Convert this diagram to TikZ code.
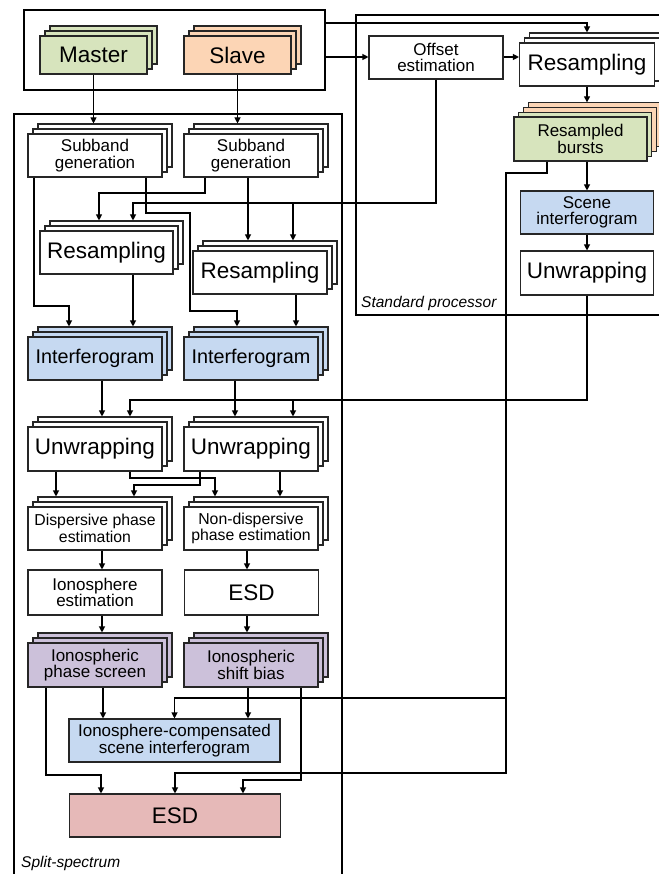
\documentclass[tikz,border=0pt]{standalone}
\usepackage{fontspec}
\setmainfont{Liberation Sans}
\usepackage{xcolor}
\usepackage{tikz}
\usetikzlibrary{arrows.meta, positioning, calc}
\definecolor{mgreen}{HTML}{D7E4BD}
\definecolor{sorange}{HTML}{FCD5B5}
\definecolor{iblue}{HTML}{C6D9F1}
\definecolor{ipurple}{HTML}{CCC1DA}
\definecolor{ered}{HTML}{E6B9B8}
\newcommand{\bigfont}{\fontsize{22.5}{24}\selectfont}
\newcommand{\midfont}{\fontsize{19.8}{21}\selectfont}
\newcommand{\smallfont}{\fontsize{17}{16.5}\selectfont}
\newcommand{\tinyfont}{\fontsize{15.8}{16.5}\selectfont}

\begin{document}
\begin{tikzpicture}[
		x=1pt, y=-1pt,
		box/.style={draw=black!85, line width=1.1pt, fill=white, minimum width=134pt,
			minimum height=43pt, inner sep=0pt, align=center, font=\smallfont},
		stack/.style={box, fill=#1,
			preaction={draw=black!85, fill=#1, transform canvas={shift={(10pt,10pt)}}},
			preaction={draw=black!85, fill=#1, transform canvas={shift={(5pt,5pt)}}}},
		stack/.default=white,
		burststack/.style={box, fill=mgreen,
			preaction={draw=black!85, fill=sorange, transform canvas={shift={(14.1pt,14.1pt)}}},
			preaction={draw=black!85, fill=sorange, transform canvas={shift={(9.4pt,9.4pt)}}},
			preaction={draw=black!85, fill=mgreen, transform canvas={shift={(4.7pt,4.7pt)}}}},
		frame/.style={draw=black, line width=2.2pt, inner sep=0pt, outer sep=0pt},
		arr/.style={-{Triangle[length=6pt,width=6pt]}, line width=1.1pt},
		lab/.style={font=\fontsize{15.5}{16}\selectfont\itshape, anchor=west, inner sep=0pt}
		]
		\useasboundingbox (0,0) rectangle (658,874);
		
		% Frames
		\node[frame, minimum width=301pt, minimum height=80pt] (inputs) at (174.5,50) {};
		\draw[frame] (14,876) |- (342,114) -- (342,876);
		\draw[frame] (660,15) -| (356,315) -- (660,315);
		\node[lab] (stdlab) at (361,303) {Standard processor};
		\node[lab] (splitlab) at (21,863) {Split-spectrum};
		
		% Inputs
		\node[stack=mgreen, minimum width=107pt, minimum height=38pt, font=\bigfont] (master) at (93.5,55) {Master};
		\node[stack=sorange, minimum width=107pt, minimum height=38pt, font=\bigfont] (slave) at (237.5,55) {Slave};
		
		% Standard processor
		\node[box] (offset) at (436,57.5) {Offset\\estimation};
		\node[stack, minimum width=135pt, font=\bigfont] (resampS) at (587,64.5) {Resampling};
		\node[burststack, minimum width=133pt, minimum height=44pt] (bursts) at (580.5,139) {Resampled\\bursts};
		\node[box, fill=iblue, minimum width=133pt] (scene) at (587,212.5) {Scene\\interferogram};
		\node[box, minimum width=133pt, minimum height=44pt, font=\bigfont] (unwrS) at (587,273) {Unwrapping};
		
		% Split-spectrum
		\node[stack] (subL) at (95,155.5) {Subband\\generation};
		\node[stack] (subR) at (251,155.5) {Subband\\generation};
		\node[stack, minimum width=133pt, font=\bigfont] (resL) at (106.5,252.5) {Resampling};
		\node[stack, font=\bigfont] (resR) at (260,272.5) {Resampling};
		\node[stack=iblue, font=\midfont] (intL) at (95,358.5) {Interferogram};
		\node[stack=iblue, font=\midfont] (intR) at (251,358.5) {Interferogram};
		\node[stack, minimum height=44pt, font=\bigfont] (unwL) at (95,449) {Unwrapping};
		\node[stack, minimum height=44pt, font=\bigfont] (unwR) at (251,449) {Unwrapping};
		\node[stack, font=\tinyfont] (dispL) at (95,528.5) {Dispersive phase\\estimation};
		\node[stack, font=\tinyfont] (ndispR) at (251,528.5) {Non-dispersive\\phase estimation};
		\node[box, minimum height=45pt] (ionoest) at (95,592.5) {Ionosphere\\estimation};
		\node[box, minimum height=45pt, font=\bigfont] (esdR) at (251.5,592.5) {ESD};
		\node[stack=ipurple, minimum height=44pt] (screen) at (95,665) {Ionospheric\\phase screen};
		\node[stack=ipurple, minimum height=44pt] (bias) at (251,665) {Ionospheric\\shift bias};
		\node[box, fill=iblue, minimum width=211pt] (comp) at (174.5,740.5) {Ionosphere-compensated\\scene interferogram};
		\node[box, fill=ered, minimum width=211pt, font=\bigfont] (esd) at (175,815.5) {ESD};
		
		% Standard processor flow
		\draw[arr] (inputs.east |- 0,23) -| ([yshift=10pt]resampS.north);
		\draw[arr] (inputs.east |- 0,57) -- (offset.west |- 0,57);
		\draw[arr] (offset.east |- 0,57) -- (resampS.west |- 0,57);
		\draw[arr] (resampS.south) -- ([yshift=14.1pt]bursts.north -| resampS.south);
		\draw[arr] (bursts.south -| scene.north) -- (scene.north);
		\draw[arr] (scene.south) -- (unwrS.north);
		
		% Into split-spectrum from standard processor
		\draw[arr] (offset.south) |- (133,203) -- ([yshift=10pt]resL.north -| 133,0);
		\draw[arr] (offset.south) |- (293,203) -- ([yshift=10pt]resR.north -| 293,0);
		\draw[arr] (unwrS.south) |- (130,400) -- ([yshift=10pt]unwL.north -| 130,0);
		\draw[arr] (unwrS.south) |- (293,400) -- ([yshift=10pt]unwR.north -| 293,0);
		\draw[arr] (bursts.south -| 547,0) |- (506,173) -- (506,698) -| (comp.north);
		\draw[arr] (bursts.south -| 547,0) |- (506,173) -- (506,773) -| (esd.north);
		
		% Subbands
		\draw[arr] (master.south) -- ([yshift=10pt]subL.north -| master.south);
		\draw[arr] (slave.south) -- ([yshift=10pt]subR.north -| slave.south);
		\draw[arr] (subL.south -| 34,0) |- (69,306) -- ([yshift=10pt]intL.north -| 69,0);
		\draw[arr] (subL.south -| 146,0) |- (190,213) |- (237,311) -- ([yshift=10pt]intR.north -| 237,0);
		\draw[arr] (subR.south -| 205,0) |- (99,193) -- ([yshift=10pt]resL.north -| 99,0);
		\draw[arr] (subR.south -| 248,0) -- ([yshift=10pt]resR.north -| 248,0);
		
		% Interferograms and unwrapping
		\draw[arr] (resL.south -| 133,0) -- ([yshift=10pt]intL.north -| 133,0);
		\draw[arr] (resR.south -| 296,0) -- ([yshift=10pt]intR.north -| 296,0);
		\draw[arr] (intL.south -| 102,0) -- ([yshift=10pt]unwL.north -| 102,0);
		\draw[arr] (intR.south -| 235,0) -- ([yshift=10pt]unwR.north -| 235,0);
		
		% Phase separation
		\draw[arr] (unwL.south -| 56,0) -- ([yshift=10pt]dispL.north -| 56,0);
		\draw[arr] (unwL.south -| 130,0) |- (215,478) -- ([yshift=10pt]ndispR.north -| 215,0);
		\draw[arr] (unwR.south -| 200,0) |- (134,485) -- ([yshift=10pt]dispL.north -| 134,0);
		\draw[arr] (unwR.south -| 280,0) -- ([yshift=10pt]ndispR.north -| 280,0);
		\draw[arr] (dispL.south -| 102,0) -- (ionoest.north -| 102,0);
		\draw[arr] (ndispR.south -| 247,0) -- (esdR.north -| 247,0);
		\draw[arr] (ionoest.south -| 102,0) -- ([yshift=10pt]screen.north -| 102,0);
		\draw[arr] (esdR.south -| 247,0) -- ([yshift=10pt]bias.north -| 247,0);
		
		% Compensation and final ESD
		\draw[arr] (screen.south -| 103,0) -- (comp.north -| 103,0);
		\draw[arr] (bias.south -| 248,0) -- (comp.north -| 248,0);
		\draw[arr] (screen.south -| 46,0) |- (101,775) -- (esd.north -| 101,0);
		\draw[arr] (bias.south -| 301,0) |- (243,780) -- (esd.north -| 243,0);
		
	\end{tikzpicture}
\end{document}
